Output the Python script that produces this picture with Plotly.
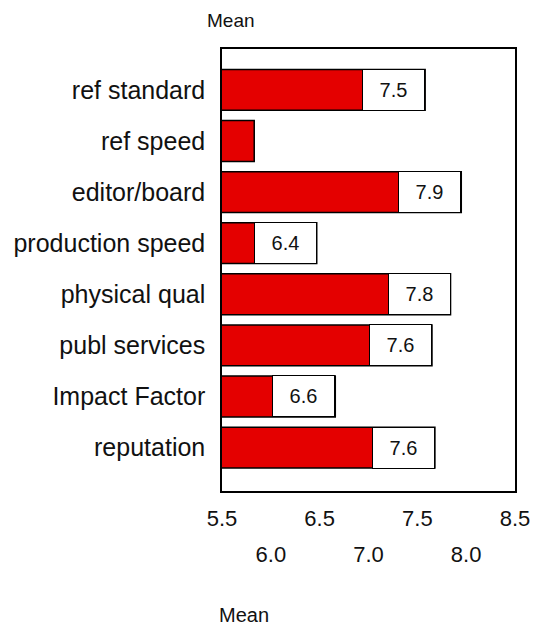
import plotly.graph_objects as go

categories = ["ref standard", "ref speed", "editor/board", "production speed",
              "physical qual", "publ services", "Impact Factor", "reputation"]
means = [7.58, 5.83, 7.95, 6.47, 7.84, 7.65, 6.66, 7.68]
value_labels = ["7.5", "", "7.9", "6.4", "7.8", "7.6", "6.6", "7.6"]
ticks_row1 = [5.5, 6.5, 7.5, 8.5]
ticks_row2 = [6.0, 7.0, 8.0]
axis_title = "Mean"

FONT = "Liberation Sans"
BOX_W = 61  # inner width in px of the value-label box

fig = go.Figure()
fig.add_trace(go.Bar(
    y=categories, x=means, orientation="h",
    marker=dict(color="#E40000", line=dict(color="black", width=1.5)),
    width=0.8, hoverinfo="skip", showlegend=False,
))

annotations = []
for cat, v, lab in zip(categories, means, value_labels):
    if not lab:
        continue
    annotations.append(dict(
        x=v, y=cat, xref="x", yref="y", text=lab, showarrow=False,
        xanchor="right", yanchor="middle",
        width=BOX_W, height=40, borderpad=0, borderwidth=1,
        bordercolor="black", bgcolor="white",
        font=dict(family=FONT, size=20, color="#111"),
    ))

annotations.append(dict(x=0.075, y=-0.2805, xref="paper", yref="paper",
                        text=axis_title, showarrow=False, xanchor="center", yanchor="middle",
                        font=dict(family=FONT, size=20, color="#111")))
annotations.append(dict(x=0.03, y=1.093, xref="paper", yref="paper",
                        text=axis_title, showarrow=False, xanchor="center", yanchor="top",
                        font=dict(family=FONT, size=19, color="#111")))

fig.update_layout(
    width=530, height=617,
    margin=dict(l=214, r=23, t=41, b=134),
    paper_bgcolor="white", plot_bgcolor="white",
    font=dict(family=FONT, color="#111"),
    annotations=annotations,
    xaxis=dict(range=[5.5, 8.5], tickvals=ticks_row1, ticktext=[f"{t:.1f}" for t in ticks_row1],
               showgrid=False, zeroline=False, showline=True, linecolor="black", linewidth=1.5,
               mirror=True, ticks="", ticklabelstandoff=7, automargin=False,
               tickfont=dict(family=FONT, size=22, color="#111")),
    xaxis2=dict(range=[5.5, 8.5], overlaying="x", side="bottom", anchor="y", matches="x",
                tickvals=ticks_row2, ticktext=[f"{t:.1f}" for t in ticks_row2],
                showgrid=False, zeroline=False, showline=False, ticks="", ticklabelstandoff=48,
                automargin=False,
                tickfont=dict(family=FONT, size=22, color="#111")),
    yaxis=dict(categoryorder="array", categoryarray=categories, range=[7.85, -0.8],
               showgrid=False, zeroline=False, showline=True, linecolor="black", linewidth=1.5,
               mirror=True, ticks="", ticklabelstandoff=10, automargin=False,
               tickfont=dict(family=FONT, size=25, color="#111")),
)
fig.add_trace(go.Scatter(x=[None], y=[None], xaxis="x2", yaxis="y", showlegend=False, hoverinfo="skip"))

fig.write_html("out.html")
